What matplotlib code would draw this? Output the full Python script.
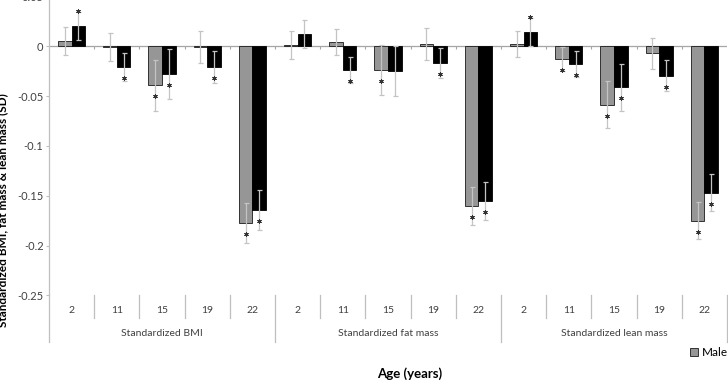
import numpy as np
import matplotlib.pyplot as plt
import matplotlib.transforms as mtransforms

plt.rcParams['font.family'] = ['Lato', 'DejaVu Sans']

ages = ['2', '11', '15', '19', '22']
groups = ['Standardized BMI', 'Standardized fat mass', 'Standardized lean mass']

# BMI (2..22), fat mass (2..22), lean mass (2..22)
male = [0.0056, -0.001, -0.039, -0.001, -0.177,
        0.0016, 0.0043, -0.0235, 0.0023, -0.160,
        0.002, -0.0124, -0.0586, -0.007, -0.175]
female = [0.020, -0.0205, -0.028, -0.021, -0.164,
          0.0123, -0.024, -0.0245, -0.017, -0.155,
          0.0144, -0.0178, -0.041, -0.0295, -0.147]
male_err = [0.014, 0.014, 0.0255, 0.016, 0.020,
            0.014, 0.0135, 0.025, 0.016, 0.019,
            0.013, 0.012, 0.0235, 0.0157, 0.0185]
female_err = [0.014, 0.014, 0.025, 0.016, 0.020,
              0.014, 0.013, 0.025, 0.015, 0.019,
              0.014, 0.013, 0.0235, 0.0154, 0.0185]
male_sig = [0, 0, 1, 0, 1, 0, 0, 1, 0, 1, 0, 1, 1, 0, 1]
female_sig = [1, 1, 1, 1, 1, 0, 1, 0, 1, 1, 1, 1, 1, 1, 1]

yticks = [0.05, 0, -0.05, -0.1, -0.15, -0.2, -0.25]
ytick_labels = ['0.05', '0', '-0.05', '-0.1', '-0.15', '-0.2', '-0.25']

fig = plt.figure(figsize=(7.28, 3.81), dpi=100)
ax_bottom = 0.2249
ax = fig.add_axes([0.0673, ax_bottom, 0.9313, 0.7843])

x = np.arange(len(male))
w = 0.3
ax.bar(x - w / 2, male, w, color='#969696', edgecolor='#1a1a1a', linewidth=0.6, label='Male', zorder=2)
ax.bar(x + w / 2, female, w, color='black', edgecolor='black', linewidth=0.6, label='Female', zorder=2)
ax.errorbar(x - w / 2, male, yerr=male_err, fmt='none', ecolor='#c4c4c4',
            elinewidth=0.9, capsize=1.8, capthick=0.9, zorder=3)
ax.errorbar(x + w / 2, female, yerr=female_err, fmt='none', ecolor='#c4c4c4',
            elinewidth=0.9, capsize=1.8, capthick=0.9, zorder=3)

# significance asterisks
below = mtransforms.offset_copy(ax.transData, fig=fig, y=-8, units='points')
above = mtransforms.offset_copy(ax.transData, fig=fig, y=11, units='points')
for xs, vals, sig in [(x - w / 2, male, male_sig), (x + w / 2, female, female_sig)]:
    for xi, v, s in zip(xs, vals, sig):
        if s:
            ax.plot(xi, v, marker=(6, 2, 0), ms=3.2, mew=0.7, color='#333333',
                    transform=below if v < 0 else above, clip_on=False, zorder=4)

ax.set_xlim(-0.5, 14.5)
ax.set_ylim(-0.25, 0.05)
ax.set_xticks([])
ax.set_yticks(yticks)
ax.set_yticklabels(ytick_labels)
ax.tick_params(axis='y', length=2.5, width=0.8, color='#bfbfbf', labelsize=8,
               labelcolor='#404040', pad=1.5)
for s in ['top', 'right', 'bottom']:
    ax.spines[s].set_visible(False)
ax.spines['left'].set_color('#bfbfbf')
ax.spines['left'].set_linewidth(0.9)

ax.axhline(0, color='#a6a6a6', lw=0.9, zorder=1)
ax.vlines(np.arange(0.5, 14.5, 1), -0.003, 0, color='#a6a6a6', lw=0.8, zorder=1)

# multi-level category axis
trans = mtransforms.blended_transform_factory(ax.transData, fig.transFigure)
for b in np.arange(-0.5, 15, 1):
    bottom = 0.1024 if b in (-0.5, 4.5, 9.5, 14.5) else 0.1644
    ax.plot([b, b], [ax_bottom, bottom], transform=trans, clip_on=False,
            color='#bfbfbf', lw=0.9)
for gi, g in enumerate(groups):
    for ai, a in enumerate(ages):
        ax.text(gi * 5 + ai, 0.1845, a, transform=trans, ha='center', va='center',
                fontsize=7.5, color='#404040')
    ax.text(gi * 5 + 2, 0.1234, g, transform=trans, ha='center', va='center',
            fontsize=7.5, color='#404040')

fig.text(0.563, 0.0184, 'Age (years)', ha='center', va='center', fontsize=9.5,
         fontweight='bold')
fig.text(0.004, 0.449, 'Standardized BMI, fat mass & lean mass (SD)', rotation=90,
         ha='center', va='center', fontsize=8.5, fontweight='bold')

fig.legend(loc='center left', bbox_to_anchor=(0.948, 0.0735), ncol=2, frameon=False,
           fontsize=8.5, handlelength=0.7, handleheight=0.7, handletextpad=0.3,
           borderaxespad=0, borderpad=0)

fig.savefig('out.png', dpi=100)
